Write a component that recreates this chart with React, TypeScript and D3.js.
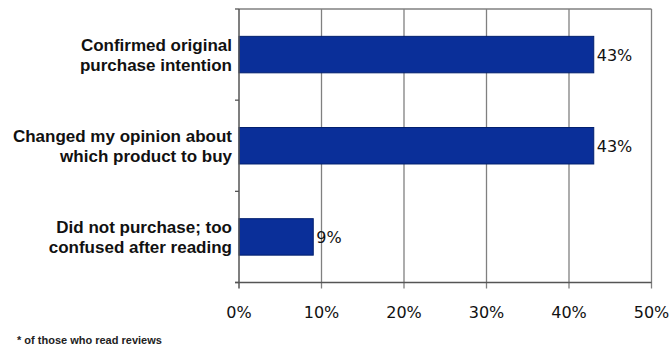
import React from "react";
import * as d3 from "d3";

const categories: string[][] = [
  ["Confirmed original", "purchase intention"],
  ["Changed my opinion about", "which product to buy"],
  ["Did not purchase; too", "confused after reading"],
];
const values: number[] = [43, 43, 9];
const xTicks: number[] = [0, 10, 20, 30, 40, 50];
const footnote = "* of those who read reviews";

const W = 670;
const H = 349;
const margin = { left: 239, right: 18.5, top: 9, bottom: 66.5 };

export default function App() {
  const x = d3.scaleLinear().domain([0, 50]).range([margin.left, W - margin.right]);
  const y = d3
    .scaleBand<number>()
    .domain(values.map((_, i) => i))
    .range([margin.top, H - margin.bottom])
    .paddingInner(0.6)
    .paddingOuter(0.3);
  const n = values.length;
  const bandEdges = d3.range(n + 1).map((i) => margin.top + i * ((H - margin.bottom - margin.top) / n));
  const y0 = margin.top;
  const y1 = H - margin.bottom;
  const font = "Arial, 'Liberation Sans', sans-serif";
  const numFont = "Tahoma, 'DejaVu Sans', Verdana, sans-serif";
  return (
    <svg width={W} height={H} style={{ position: "absolute", left: 0, top: 0, background: "#fff" }}>
      {xTicks.slice(1).map((t) => (
        <line key={t} x1={x(t)} x2={x(t)} y1={y0} y2={y1 + 6} stroke="#808080" strokeWidth={1.3} />
      ))}
      <line x1={x(0)} x2={x(50)} y1={y0} y2={y0} stroke="#808080" strokeWidth={1.3} />
      {values.map((v, i) => (
        <rect
          key={i}
          x={x(0)}
          y={y(i)!}
          width={x(v) - x(0)}
          height={y.bandwidth()}
          fill="#0a2f99"
          stroke="#001f6e"
          strokeWidth={1}
        />
      ))}
      <line x1={x(0)} x2={x(0)} y1={y0} y2={y1 + 6} stroke="#555" strokeWidth={1.5} />
      <line x1={x(0) - 4} x2={x(50)} y1={y1} y2={y1} stroke="#555" strokeWidth={1.5} />
      {bandEdges.map((b, i) => (
        <line key={i} x1={x(0) - 4} x2={x(0)} y1={b} y2={b} stroke="#555" strokeWidth={1.3} />
      ))}
      {xTicks.map((t) => (
        <text key={t} x={x(t)} y={y1 + 35} textAnchor="middle" fontFamily={numFont} fontSize={16} fill="#111">
          {t}%
        </text>
      ))}
      {categories.map((lines, i) => {
        const cy = y(i)! + y.bandwidth() / 2;
        return (
          <text key={i} textAnchor="end" fontFamily={font} fontWeight="bold" fontSize={17} fill="#111">
            {lines.map((l, j) => (
              <tspan key={j} x={232} y={cy - 4 + j * 20.5}>
                {l}
              </tspan>
            ))}
          </text>
        );
      })}
      {values.map((v, i) => (
        <text
          key={i}
          x={x(v) + 3}
          y={y(i)! + y.bandwidth() / 2 + 6}
          fontFamily={numFont}
          fontSize={16}
          fill="#111"
        >
          {v}%
        </text>
      ))}
      <text x={17} y={344} fontFamily={font} fontWeight="bold" fontSize={11} fill="#222">
        {footnote}
      </text>
    </svg>
  );
}
